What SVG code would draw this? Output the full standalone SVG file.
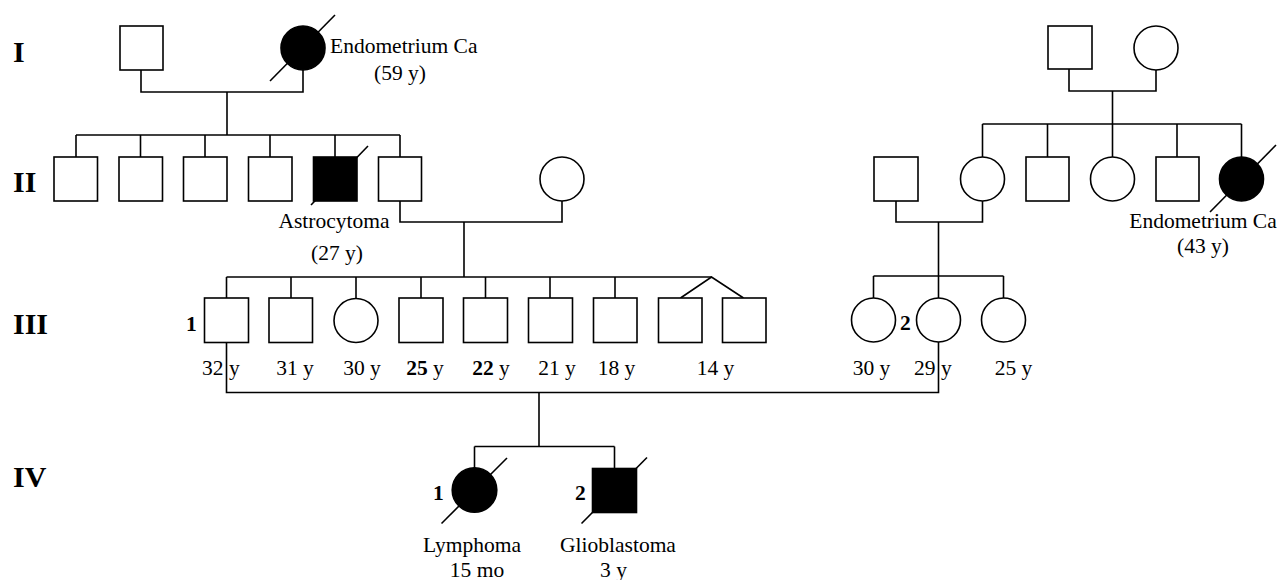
<svg xmlns="http://www.w3.org/2000/svg" width="1279" height="580" viewBox="0 0 1279 580">
<style>
.s{fill:#fff;stroke:#000;stroke-width:1.6}
.a{fill:#000;stroke:#000;stroke-width:1.6}
.l{fill:none;stroke:#000;stroke-width:1.6}
.t{font-family:"Liberation Serif","Times New Roman",serif;font-size:21.5px;fill:#000}
.m{text-anchor:middle}
.b{font-weight:bold}
.g{font-family:"Liberation Serif","Times New Roman",serif;font-size:30px;font-weight:bold;fill:#000}
</style>
<rect width="1279" height="580" fill="#fff"/>
<g id="gen-labels">
<text class="g" x="13" y="62">I</text>
<text class="g" x="13" y="192">II</text>
<text class="g" x="13" y="334">III</text>
<text class="g" x="13" y="487">IV</text>
</g>
<g id="connectors">
<polyline class="l" points="141,70 141,92 303,92 303,70"/>
<line class="l" x1="227" y1="92" x2="227" y2="135"/>
<line class="l" x1="76" y1="135" x2="400" y2="135"/>
<line class="l" x1="76" y1="135" x2="76" y2="157"/>
<line class="l" x1="140.5" y1="135" x2="140.5" y2="157"/>
<line class="l" x1="205" y1="135" x2="205" y2="157"/>
<line class="l" x1="270" y1="135" x2="270" y2="157"/>
<line class="l" x1="335" y1="135" x2="335" y2="157"/>
<line class="l" x1="400" y1="135" x2="400" y2="157"/>
<polyline class="l" points="400,201 400,222 562,222 562,201"/>
<line class="l" x1="464" y1="222" x2="464" y2="277"/>
<line class="l" x1="226.5" y1="277" x2="711.5" y2="277"/>
<line class="l" x1="226.5" y1="277" x2="226.5" y2="298"/>
<line class="l" x1="291" y1="277" x2="291" y2="298"/>
<line class="l" x1="356" y1="277" x2="356" y2="298"/>
<line class="l" x1="421" y1="277" x2="421" y2="298"/>
<line class="l" x1="485.5" y1="277" x2="485.5" y2="298"/>
<line class="l" x1="550" y1="277" x2="550" y2="298"/>
<line class="l" x1="615" y1="277" x2="615" y2="298"/>
<polyline class="l" points="680.5,298 711.5,277 743.5,298"/>
<polyline class="l" points="1069,69 1069,91 1156,91 1156,70"/>
<line class="l" x1="1112.5" y1="91" x2="1112.5" y2="124"/>
<line class="l" x1="982.5" y1="124" x2="1241.5" y2="124"/>
<line class="l" x1="982.5" y1="124" x2="982.5" y2="157"/>
<line class="l" x1="1047.5" y1="124" x2="1047.5" y2="157"/>
<line class="l" x1="1112.5" y1="124" x2="1112.5" y2="157"/>
<line class="l" x1="1177" y1="124" x2="1177" y2="157"/>
<line class="l" x1="1241.5" y1="124" x2="1241.5" y2="157"/>
<polyline class="l" points="896,201 896,222 982.5,222 982.5,201"/>
<line class="l" x1="938.5" y1="222" x2="938.5" y2="276"/>
<line class="l" x1="873.5" y1="276" x2="1003.5" y2="276"/>
<line class="l" x1="873.5" y1="276" x2="873.5" y2="298"/>
<line class="l" x1="938.5" y1="276" x2="938.5" y2="298"/>
<line class="l" x1="1003.5" y1="276" x2="1003.5" y2="298"/>
<polyline class="l" points="226.5,342.5 226.5,392.5 938.5,392.5 938.5,342"/>
<line class="l" x1="539" y1="392.5" x2="539" y2="446.5"/>
<line class="l" x1="474.5" y1="446.5" x2="614.5" y2="446.5"/>
<line class="l" x1="474.5" y1="446.5" x2="474.5" y2="468"/>
<line class="l" x1="614.5" y1="446.5" x2="614.5" y2="468"/>
</g>
<g id="I-1"><rect class="s" x="120" y="26" width="43" height="44"/></g>
<g id="I-2"><circle class="a" cx="303" cy="48" r="22"/><line class="l" x1="270" y1="81" x2="335" y2="15"/>
<text class="t" x="330" y="53">Endometrium Ca</text><text class="t m" x="400" y="80">(59 y)</text></g>
<g id="I-3"><rect class="s" x="1048" y="26" width="44" height="43"/></g>
<g id="I-4"><circle class="s" cx="1156" cy="48" r="22"/></g>
<g id="II-1"><rect class="s" x="54" y="157" width="43.5" height="44"/></g>
<g id="II-2"><rect class="s" x="119" y="157" width="43.5" height="44"/></g>
<g id="II-3"><rect class="s" x="183.5" y="157" width="43.5" height="44"/></g>
<g id="II-4"><rect class="s" x="248.5" y="157" width="43.5" height="44"/></g>
<g id="II-5"><rect class="a" x="313.5" y="157" width="43.5" height="44"/><line class="l" x1="311" y1="205" x2="368" y2="146"/>
<text class="t m" x="334" y="228">Astrocytoma</text><text class="t m" x="337" y="260">(27 y)</text></g>
<g id="II-6"><rect class="s" x="378.5" y="157" width="43" height="44"/></g>
<g id="II-7"><circle class="s" cx="562" cy="179" r="22"/></g>
<g id="II-8"><rect class="s" x="874" y="157" width="44" height="44"/></g>
<g id="II-9"><circle class="s" cx="982.5" cy="179" r="22"/></g>
<g id="II-10"><rect class="s" x="1026" y="157" width="43" height="44"/></g>
<g id="II-11"><circle class="s" cx="1112.5" cy="179" r="22"/></g>
<g id="II-12"><rect class="s" x="1156" y="157" width="43" height="44"/></g>
<g id="II-13"><circle class="a" cx="1241.5" cy="179" r="22"/><line class="l" x1="1210" y1="212" x2="1276" y2="145"/>
<text class="t m" x="1203" y="228">Endometrium Ca</text><text class="t m" x="1203" y="253">(43 y)</text></g>
<g id="III-1"><text class="t b" x="186" y="331">1</text><rect class="s" x="204.5" y="298" width="44" height="44.5"/><text class="t" x="202" y="375">32</text><text class="t" x="229" y="375">y</text></g>
<g id="III-2"><rect class="s" x="269" y="298" width="43.5" height="44.5"/><text class="t m" x="295" y="375">31 y</text></g>
<g id="III-3"><circle class="s" cx="356" cy="320.5" r="22"/><text class="t m" x="362" y="375">30 y</text></g>
<g id="III-4"><rect class="s" x="399" y="298" width="44" height="44.5"/><text class="t m" x="425" y="375"><tspan class="b">25</tspan> y</text></g>
<g id="III-5"><rect class="s" x="463.5" y="298" width="44" height="44.5"/><text class="t m" x="491" y="375"><tspan class="b">22</tspan> y</text></g>
<g id="III-6"><rect class="s" x="528.5" y="298" width="44" height="44.5"/><text class="t m" x="557" y="375">21 y</text></g>
<g id="III-7"><rect class="s" x="593.5" y="298" width="43.5" height="44.5"/><text class="t m" x="616.5" y="375">18 y</text></g>
<g id="III-8"><rect class="s" x="658.5" y="298" width="43.5" height="44.5"/><text class="t m" x="715.5" y="375">14 y</text></g>
<g id="III-9"><rect class="s" x="722.5" y="298" width="43.5" height="44.5"/></g>
<g id="III-10"><circle class="s" cx="873.5" cy="320" r="22"/><text class="t m" x="871.5" y="375">30 y</text></g>
<g id="III-11"><text class="t b" x="900" y="330">2</text><circle class="s" cx="938.5" cy="320" r="22"/><text class="t" x="914" y="375">29</text><text class="t" x="941" y="375">y</text></g>
<g id="III-12"><circle class="s" cx="1003.5" cy="320" r="22"/><text class="t m" x="1013.5" y="375">25 y</text></g>
<g id="IV-1"><text class="t b" x="433" y="500">1</text><circle class="a" cx="474.5" cy="490" r="22.3"/><line class="l" x1="441.5" y1="523.5" x2="507" y2="458"/>
<text class="t m" x="472" y="552">Lymphoma</text><text class="t m" x="477" y="577">15 mo</text></g>
<g id="IV-2"><text class="t b" x="575" y="500">2</text><rect class="a" x="592.5" y="468.5" width="44" height="44"/><line class="l" x1="581.5" y1="523.5" x2="647" y2="457.5"/>
<text class="t m" x="618" y="552">Glioblastoma</text><text class="t m" x="613.5" y="577">3 y</text></g>
</svg>
